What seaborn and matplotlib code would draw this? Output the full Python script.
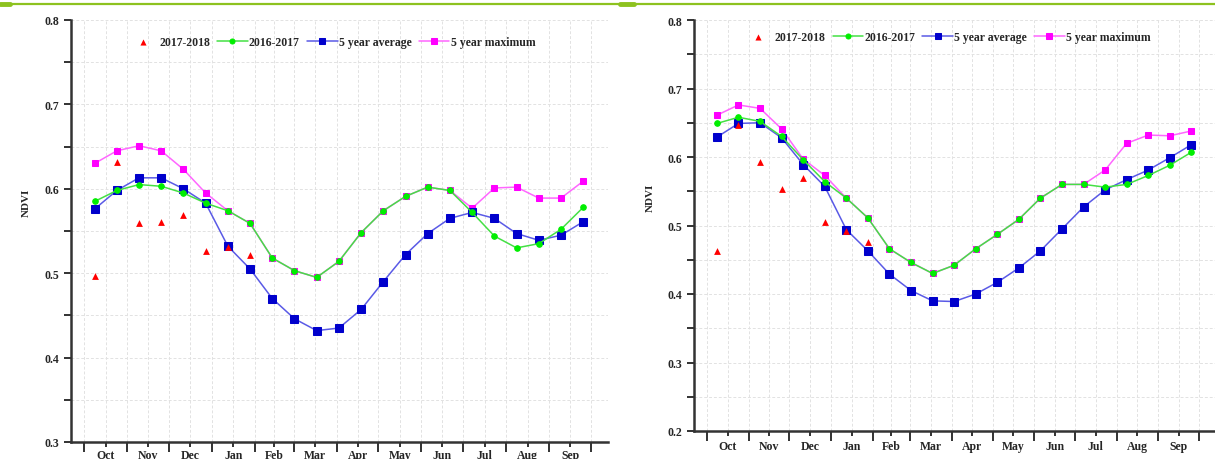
import numpy as np
import pandas as pd
import seaborn as sns
import matplotlib
matplotlib.use("Agg")
import matplotlib.pyplot as plt
from matplotlib.lines import Line2D

### data ###
# 16-day composites, days since 1 Oct (composite centre)
days = [7.5 + 16 * i for i in range(23)]
months = ['Oct', 'Nov', 'Dec', 'Jan', 'Feb', 'Mar', 'Apr', 'May', 'Jun', 'Jul', 'Aug', 'Sep']
month_edges = [0, 31, 61, 92, 123, 151, 182, 212, 243, 273, 304, 335, 365]

# left panel
left_1718 = [0.497, 0.632, 0.559, 0.561, 0.569, 0.526, 0.531, 0.522]
left_1617 = [0.585, 0.598, 0.605, 0.603, 0.595, 0.583, 0.574, 0.559, 0.518, 0.503, 0.495, 0.514,
             0.548, 0.574, 0.591, 0.602, 0.598, 0.572, 0.544, 0.530, 0.535, 0.552, 0.578]
left_avg = [0.576, 0.598, 0.613, 0.613, 0.600, 0.583, 0.532, 0.505, 0.470, 0.446, 0.432, 0.435,
            0.457, 0.490, 0.522, 0.547, 0.565, 0.572, 0.565, 0.547, 0.539, 0.545, 0.561]
left_max = [0.630, 0.645, 0.651, 0.645, 0.623, 0.595, 0.574, 0.559, 0.518, 0.503, 0.495, 0.514,
            0.548, 0.574, 0.591, 0.602, 0.598, 0.577, 0.601, 0.602, 0.589, 0.589, 0.609]

# right panel
right_1718 = [0.463, 0.646, 0.593, 0.553, 0.569, 0.505, 0.492, 0.476]
right_1617 = [0.649, 0.658, 0.652, 0.630, 0.596, 0.564, 0.540, 0.511, 0.466, 0.446, 0.430, 0.442,
              0.466, 0.487, 0.509, 0.540, 0.560, 0.560, 0.556, 0.560, 0.573, 0.588, 0.607]
right_avg = [0.629, 0.649, 0.650, 0.628, 0.589, 0.557, 0.494, 0.463, 0.429, 0.405, 0.390, 0.389,
             0.400, 0.417, 0.438, 0.463, 0.495, 0.527, 0.552, 0.567, 0.581, 0.599, 0.618]
right_max = [0.661, 0.676, 0.671, 0.641, 0.597, 0.573, 0.540, 0.511, 0.466, 0.446, 0.430, 0.442,
             0.466, 0.487, 0.509, 0.540, 0.560, 0.560, 0.581, 0.620, 0.632, 0.631, 0.638]

sns.set_style("white")
plt.rcParams['font.family'] = ['Liberation Serif', 'DejaVu Serif']
plt.rcParams['font.weight'] = 'bold'

W, H = 1215, 460
fig = plt.figure(figsize=(W / 100, H / 100), dpi=100)

# top green rule
fig.add_artist(Line2D([0, 1], [1 - 4.5 / H] * 2, color='#8DC21F', lw=1.6))
fig.add_artist(Line2D([0, 10 / W], [1 - 4.5 / H] * 2, color='#8DC21F', lw=3.5))
fig.add_artist(Line2D([620 / W, 634 / W], [1 - 4.5 / H] * 2, color='#8DC21F', lw=3.5))


def panel(rect, ylo, d1718, d1617, davg, dmax, ylab_y, leg_y, lab_pad):
    ax = fig.add_axes(rect)
    n = len(d1718)
    sns.lineplot(x=days, y=dmax, ax=ax, color='#FF66FF', lw=1.1, marker='s', markersize=4.5,
                 markerfacecolor='#FF00FF', markeredgecolor='#FF00FF', label='5 year maximum', zorder=2)
    sns.lineplot(x=days, y=davg, ax=ax, color='#5A5AE6', lw=1.1, marker='s', markersize=5.2,
                 markerfacecolor='#0000CC', markeredgecolor='#0000CC', label='5 year average', zorder=3)
    sns.lineplot(x=days, y=d1617, ax=ax, color='#44E044', lw=1.1, marker='o', markersize=4,
                 markerfacecolor='#00EE00', markeredgecolor='#00EE00', label='2016-2017', zorder=4)
    sns.scatterplot(x=days[:n], y=d1718, ax=ax, color='#FF0000', marker='^', s=24, linewidth=0,
                    label='2017-2018', zorder=5)

    ax.set_xlim(-9.5, 377)
    ax.set_ylim(ylo, 0.8)
    ax.set_xticks(month_edges)
    ax.set_xticklabels([])
    mids = [(month_edges[i] + month_edges[i + 1]) / 2 for i in range(12)]
    ax.set_xticks(mids, minor=True)
    ax.set_xticklabels(months, minor=True, fontsize=8.5, fontweight='bold')
    ax.tick_params(axis='x', which='major', length=7, width=1.3, color='#222222')
    ax.tick_params(axis='x', which='minor', length=3.5, width=1.3, color='#222222', pad=lab_pad)
    yt = np.round(np.arange(ylo, 0.801, 0.1), 2)
    ax.set_yticks(yt)
    ax.set_yticklabels([f'{v:.1f}' for v in yt], fontsize=8.5, fontweight='bold')
    ax.set_yticks(np.round(np.arange(ylo + 0.05, 0.8, 0.1), 2), minor=True)
    ax.tick_params(axis='y', which='both', length=5, width=1.3, color='#222222', left=True)
    ax.tick_params(axis='x', bottom=True, which='both')
    ax.grid(True, which='both', color='#E2E2E2', ls=(0, (3, 2)), lw=0.7)
    for s in ['top', 'right']:
        ax.spines[s].set_visible(False)
    for s in ['left', 'bottom']:
        ax.spines[s].set_color('#333333')
        ax.spines[s].set_linewidth(1.8)
    ax.set_xlabel('')
    ax.set_ylabel('NDVI', fontsize=8, fontweight='bold')
    ax.yaxis.set_label_coords(-0.075, ylab_y)

    handles, labels = ax.get_legend_handles_labels()
    order = ['2017-2018', '2016-2017', '5 year average', '5 year maximum']
    hmap = dict(zip(labels, handles))
    leg = ax.legend([hmap[k] for k in order], order, loc='center', bbox_to_anchor=(0.485, leg_y),
                    ncol=4, frameon=False, fontsize=8.5, handlelength=2.6, handletextpad=0.1,
                    columnspacing=0.6, markerscale=0.9)
    for t in leg.get_texts():
        t.set_fontweight('bold')
    return ax


panel([71 / W, 1 - 443 / H, (W / 2 - 71) / W, (443 - 21) / H], 0.3,
      left_1718, left_1617, left_avg, left_max, 0.57, 0.948, 1.5)
panel([694 / W, 1 - 432 / H, (W - 694) / W, (432 - 21) / H], 0.2,
      right_1718, right_1617, right_avg, right_max, 0.57, 0.958, 3)

fig.savefig('out.png', dpi=100)
